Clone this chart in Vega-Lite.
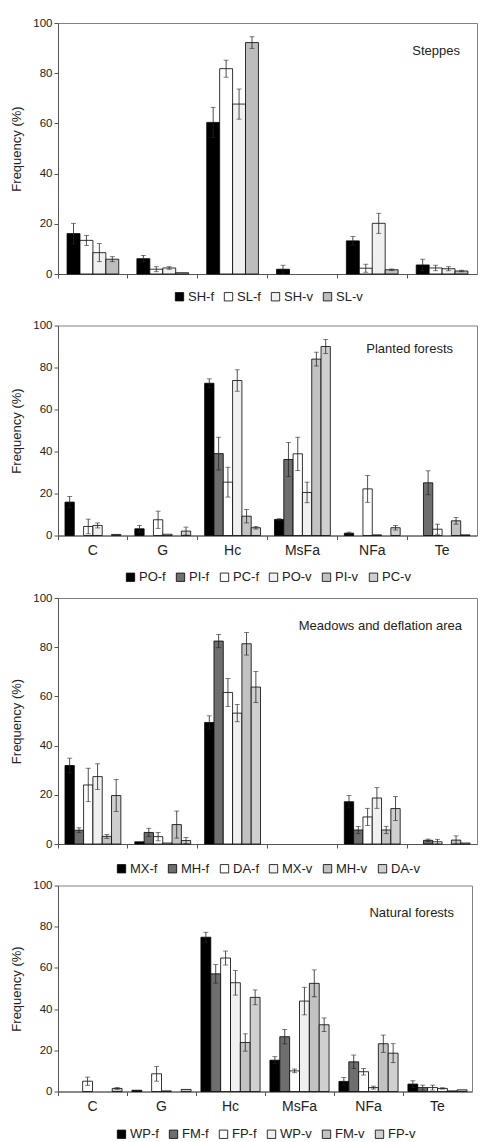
{
  "$schema": "https://vega.github.io/schema/vega-lite/v6.json",
  "background": "white",
  "padding": {"left": 10, "top": 16, "right": 0, "bottom": 0},
  "datasets": {
    "steppes": [
      {"c": "C", "s": "SH-f", "v": 16.1, "lo": 12.0, "hi": 20.2},
      {"c": "C", "s": "SL-f", "v": 13.4, "lo": 11.4, "hi": 15.4},
      {"c": "C", "s": "SH-v", "v": 8.5, "lo": 4.9, "hi": 12.1},
      {"c": "C", "s": "SL-v", "v": 5.9, "lo": 4.9, "hi": 6.9},
      {"c": "G", "s": "SH-f", "v": 6.1, "lo": 4.8, "hi": 7.4},
      {"c": "G", "s": "SL-f", "v": 1.9, "lo": 0.9, "hi": 2.9},
      {"c": "G", "s": "SH-v", "v": 2.4, "lo": 1.9, "hi": 2.9},
      {"c": "G", "s": "SL-v", "v": 0.5, "lo": null, "hi": null},
      {"c": "Hc", "s": "SH-f", "v": 60.4, "lo": 54.4, "hi": 66.4},
      {"c": "Hc", "s": "SL-f", "v": 81.8, "lo": 78.4, "hi": 85.2},
      {"c": "Hc", "s": "SH-v", "v": 67.7, "lo": 61.7, "hi": 73.7},
      {"c": "Hc", "s": "SL-v", "v": 92.2, "lo": 89.9, "hi": 94.5},
      {"c": "MsFa", "s": "SH-f", "v": 1.9, "lo": 0.3, "hi": 3.5},
      {"c": "NFa", "s": "SH-f", "v": 13.2, "lo": 11.5, "hi": 14.9},
      {"c": "NFa", "s": "SL-f", "v": 2.3, "lo": 0.7, "hi": 3.9},
      {"c": "NFa", "s": "SH-v", "v": 20.2, "lo": 16.2, "hi": 24.2},
      {"c": "NFa", "s": "SL-v", "v": 1.7, "lo": 1.4, "hi": 2.0},
      {"c": "Te", "s": "SH-f", "v": 3.6, "lo": 1.3, "hi": 5.9},
      {"c": "Te", "s": "SL-f", "v": 2.4, "lo": 1.3, "hi": 3.5},
      {"c": "Te", "s": "SH-v", "v": 2.1, "lo": 1.3, "hi": 2.9},
      {"c": "Te", "s": "SL-v", "v": 1.2, "lo": 0.9, "hi": 1.5}
    ],
    "planted": [
      {"c": "C", "s": "PO-f", "v": 15.9, "lo": 13.2, "hi": 18.6},
      {"c": "C", "s": "PC-f", "v": 4.3, "lo": 0.8, "hi": 7.8},
      {"c": "C", "s": "PO-v", "v": 4.8, "lo": 3.6, "hi": 6.0},
      {"c": "C", "s": "PC-v", "v": 0.5, "lo": null, "hi": null},
      {"c": "G", "s": "PO-f", "v": 3.2, "lo": 1.6, "hi": 4.8},
      {"c": "G", "s": "PC-f", "v": 7.5, "lo": 3.4, "hi": 11.6},
      {"c": "G", "s": "PO-v", "v": 0.6, "lo": null, "hi": null},
      {"c": "G", "s": "PC-v", "v": 2.1, "lo": 0.2, "hi": 4.0},
      {"c": "Hc", "s": "PO-f", "v": 72.5, "lo": 70.4, "hi": 74.6},
      {"c": "Hc", "s": "PI-f", "v": 39.0, "lo": 31.2, "hi": 46.8},
      {"c": "Hc", "s": "PC-f", "v": 25.4, "lo": 18.3, "hi": 32.5},
      {"c": "Hc", "s": "PO-v", "v": 73.8, "lo": 68.7, "hi": 78.9},
      {"c": "Hc", "s": "PI-v", "v": 9.2, "lo": 6.0, "hi": 12.4},
      {"c": "Hc", "s": "PC-v", "v": 3.7, "lo": 3.1, "hi": 4.3},
      {"c": "MsFa", "s": "PO-f", "v": 7.6, "lo": 7.2, "hi": 8.0},
      {"c": "MsFa", "s": "PI-f", "v": 36.2, "lo": 28.1, "hi": 44.3},
      {"c": "MsFa", "s": "PC-f", "v": 38.9, "lo": 31.0, "hi": 46.8},
      {"c": "MsFa", "s": "PO-v", "v": 20.5, "lo": 15.6, "hi": 25.4},
      {"c": "MsFa", "s": "PI-v", "v": 84.0, "lo": 80.7, "hi": 87.3},
      {"c": "MsFa", "s": "PC-v", "v": 90.0, "lo": 86.7, "hi": 93.3},
      {"c": "NFa", "s": "PO-f", "v": 1.1, "lo": 0.6, "hi": 1.6},
      {"c": "NFa", "s": "PC-f", "v": 22.2, "lo": 15.8, "hi": 28.6},
      {"c": "NFa", "s": "PO-v", "v": 0.3, "lo": null, "hi": null},
      {"c": "NFa", "s": "PC-v", "v": 3.7, "lo": 2.6, "hi": 4.8},
      {"c": "Te", "s": "PI-f", "v": 25.1, "lo": 19.4, "hi": 30.8},
      {"c": "Te", "s": "PC-f", "v": 3.0, "lo": 0.6, "hi": 5.4},
      {"c": "Te", "s": "PI-v", "v": 7.0, "lo": 5.4, "hi": 8.6},
      {"c": "Te", "s": "PC-v", "v": 0.3, "lo": null, "hi": null}
    ],
    "meadows": [
      {"c": "C", "s": "MX-f", "v": 31.9, "lo": 28.9, "hi": 34.9},
      {"c": "C", "s": "MH-f", "v": 5.6, "lo": 4.6, "hi": 6.6},
      {"c": "C", "s": "DA-f", "v": 24.0, "lo": 17.2, "hi": 30.8},
      {"c": "C", "s": "MX-v", "v": 27.4, "lo": 22.2, "hi": 32.6},
      {"c": "C", "s": "MH-v", "v": 3.1, "lo": 2.3, "hi": 3.9},
      {"c": "C", "s": "DA-v", "v": 19.7, "lo": 13.2, "hi": 26.2},
      {"c": "G", "s": "MX-f", "v": 0.9, "lo": null, "hi": null},
      {"c": "G", "s": "MH-f", "v": 4.7, "lo": 3.0, "hi": 6.4},
      {"c": "G", "s": "DA-f", "v": 3.0, "lo": 1.3, "hi": 4.7},
      {"c": "G", "s": "MX-v", "v": 0.4, "lo": null, "hi": null},
      {"c": "G", "s": "MH-v", "v": 7.9, "lo": 2.4, "hi": 13.4},
      {"c": "G", "s": "DA-v", "v": 1.4, "lo": 0.2, "hi": 2.6},
      {"c": "Hc", "s": "MX-f", "v": 49.4, "lo": 46.7, "hi": 52.1},
      {"c": "Hc", "s": "MH-f", "v": 82.5, "lo": 79.8, "hi": 85.2},
      {"c": "Hc", "s": "DA-f", "v": 61.6, "lo": 55.9, "hi": 67.3},
      {"c": "Hc", "s": "MX-v", "v": 53.2, "lo": 49.7, "hi": 56.7},
      {"c": "Hc", "s": "MH-v", "v": 81.4, "lo": 76.8, "hi": 86.0},
      {"c": "Hc", "s": "DA-v", "v": 63.8, "lo": 57.5, "hi": 70.1},
      {"c": "NFa", "s": "MX-f", "v": 17.2, "lo": 14.7, "hi": 19.7},
      {"c": "NFa", "s": "MH-f", "v": 5.7, "lo": 4.3, "hi": 7.1},
      {"c": "NFa", "s": "DA-f", "v": 11.0, "lo": 7.5, "hi": 14.5},
      {"c": "NFa", "s": "MX-v", "v": 18.7, "lo": 14.5, "hi": 22.9},
      {"c": "NFa", "s": "MH-v", "v": 5.7, "lo": 4.2, "hi": 7.2},
      {"c": "NFa", "s": "DA-v", "v": 14.4, "lo": 9.5, "hi": 19.3},
      {"c": "Te", "s": "MH-f", "v": 1.5, "lo": 1.0, "hi": 2.0},
      {"c": "Te", "s": "DA-f", "v": 0.9, "lo": 0.0, "hi": 1.9},
      {"c": "Te", "s": "MH-v", "v": 1.6, "lo": 0.0, "hi": 3.3},
      {"c": "Te", "s": "DA-v", "v": 0.4, "lo": null, "hi": null}
    ],
    "natural": [
      {"c": "C", "s": "FP-f", "v": 5.0, "lo": 3.0, "hi": 7.0},
      {"c": "C", "s": "FP-v", "v": 1.5, "lo": 1.1, "hi": 1.9},
      {"c": "G", "s": "WP-f", "v": 0.6, "lo": null, "hi": null},
      {"c": "G", "s": "FP-f", "v": 8.6, "lo": 5.0, "hi": 12.2},
      {"c": "G", "s": "WP-v", "v": 0.3, "lo": null, "hi": null},
      {"c": "G", "s": "FP-v", "v": 1.0, "lo": null, "hi": null},
      {"c": "Hc", "s": "WP-f", "v": 74.9, "lo": 72.5, "hi": 77.3},
      {"c": "Hc", "s": "FM-f", "v": 57.1, "lo": 52.6, "hi": 61.6},
      {"c": "Hc", "s": "FP-f", "v": 64.8, "lo": 61.4, "hi": 68.2},
      {"c": "Hc", "s": "WP-v", "v": 52.8, "lo": 46.8, "hi": 58.8},
      {"c": "Hc", "s": "FM-v", "v": 23.8, "lo": 19.6, "hi": 28.0},
      {"c": "Hc", "s": "FP-v", "v": 45.7, "lo": 42.1, "hi": 49.3},
      {"c": "MsFa", "s": "WP-f", "v": 15.2, "lo": 13.5, "hi": 16.9},
      {"c": "MsFa", "s": "FM-f", "v": 26.6, "lo": 23.1, "hi": 30.1},
      {"c": "MsFa", "s": "FP-f", "v": 10.0, "lo": 9.1, "hi": 10.9},
      {"c": "MsFa", "s": "WP-v", "v": 43.9, "lo": 37.2, "hi": 50.6},
      {"c": "MsFa", "s": "FM-v", "v": 52.5, "lo": 46.0, "hi": 59.0},
      {"c": "MsFa", "s": "FP-v", "v": 32.4, "lo": 29.1, "hi": 35.7},
      {"c": "NFa", "s": "WP-f", "v": 4.9, "lo": 3.0, "hi": 6.8},
      {"c": "NFa", "s": "FM-f", "v": 14.4, "lo": 11.1, "hi": 17.7},
      {"c": "NFa", "s": "FP-f", "v": 9.6, "lo": 8.0, "hi": 11.2},
      {"c": "NFa", "s": "WP-v", "v": 1.9, "lo": 1.2, "hi": 2.6},
      {"c": "NFa", "s": "FM-v", "v": 23.2, "lo": 19.0, "hi": 27.4},
      {"c": "NFa", "s": "FP-v", "v": 18.6, "lo": 14.0, "hi": 23.2},
      {"c": "Te", "s": "WP-f", "v": 3.6, "lo": 2.0, "hi": 5.2},
      {"c": "Te", "s": "FM-f", "v": 1.9, "lo": 0.7, "hi": 3.1},
      {"c": "Te", "s": "FP-f", "v": 1.9, "lo": 0.7, "hi": 3.1},
      {"c": "Te", "s": "WP-v", "v": 1.5, "lo": 1.2, "hi": 1.8},
      {"c": "Te", "s": "FM-v", "v": 0.3, "lo": null, "hi": null},
      {"c": "Te", "s": "FP-v", "v": 0.8, "lo": null, "hi": null}
    ]
  },
  "vconcat": [
    {
      "width": 419, "height": 251,
      "data": {"name": "steppes"},
      "title": {"text": "Steppes", "anchor": "end", "frame": "group", "offset": -47, "baseline": "middle", "dx": -17},
      "encoding": {
        "x": {"field": "c", "type": "nominal", "title": null, "scale": {"domain": ["C", "G", "Hc", "MsFa", "NFa", "Te"], "paddingInner": 0, "paddingOuter": 0}, "axis": {"labels": false}},
        "xOffset": {"field": "s", "type": "nominal", "scale": {"domain": ["SH-f", "SL-f", "SH-v", "SL-v"], "paddingInner": 0, "paddingOuter": 0.7}}
      },
      "layer": [
        {
          "mark": {"type": "bar", "stroke": "#000", "strokeWidth": 0.8},
          "encoding": {
            "y": {"field": "v", "type": "quantitative", "title": "Frequency (%)", "scale": {"domain": [0, 100]}},
            "color": {"field": "s", "type": "nominal", "scale": {"domain": ["SH-f", "SL-f", "SH-v", "SL-v"], "range": ["#000000", "#ffffff", "#f0f0f0", "#bdbdbd"]}, "legend": {"offset": -1.5, "padding": 12}}
          }
        },
        {
          "transform": [{"filter": "datum.hi != null"}],
          "mark": {"type": "rule", "color": "#222", "strokeWidth": 0.8},
          "encoding": {"y": {"field": "lo", "type": "quantitative", "title": "Frequency (%)"}, "y2": {"field": "hi"}}
        },
        {
          "transform": [{"filter": "datum.hi != null"}],
          "mark": {"type": "tick", "color": "#222", "size": 5, "thickness": 0.8},
          "encoding": {"y": {"field": "hi", "type": "quantitative", "title": "Frequency (%)"}}
        },
        {
          "transform": [{"filter": "datum.hi != null"}],
          "mark": {"type": "tick", "color": "#222", "size": 5, "thickness": 0.8},
          "encoding": {"y": {"field": "lo", "type": "quantitative", "title": "Frequency (%)"}}
        }
      ]
    },
    {
      "width": 419, "height": 210,
      "data": {"name": "planted"},
      "title": {"text": "Planted forests", "anchor": "end", "frame": "group", "offset": -42, "baseline": "middle", "dx": -24},
      "encoding": {
        "x": {"field": "c", "type": "nominal", "title": null, "scale": {"domain": ["C", "G", "Hc", "MsFa", "NFa", "Te"], "paddingInner": 0, "paddingOuter": 0}},
        "xOffset": {"field": "s", "type": "nominal", "scale": {"domain": ["PO-f", "PI-f", "PC-f", "PO-v", "PI-v", "PC-v"], "paddingInner": 0, "paddingOuter": 0.75}}
      },
      "layer": [
        {
          "mark": {"type": "bar", "stroke": "#000", "strokeWidth": 0.8},
          "encoding": {
            "y": {"field": "v", "type": "quantitative", "title": "Frequency (%)", "scale": {"domain": [0, 100]}},
            "color": {"field": "s", "type": "nominal", "scale": {"domain": ["PO-f", "PI-f", "PC-f", "PO-v", "PI-v", "PC-v"], "range": ["#000000", "#6e6e6e", "#ffffff", "#f0f0f0", "#c2c2c2", "#cfcfcf"]}, "legend": {"offset": 8.5, "padding": 4}}
          }
        },
        {
          "transform": [{"filter": "datum.hi != null"}],
          "mark": {"type": "rule", "color": "#222", "strokeWidth": 0.8},
          "encoding": {"y": {"field": "lo", "type": "quantitative", "title": "Frequency (%)"}, "y2": {"field": "hi"}}
        },
        {
          "transform": [{"filter": "datum.hi != null"}],
          "mark": {"type": "tick", "color": "#222", "size": 5, "thickness": 0.8},
          "encoding": {"y": {"field": "hi", "type": "quantitative", "title": "Frequency (%)"}}
        },
        {
          "transform": [{"filter": "datum.hi != null"}],
          "mark": {"type": "tick", "color": "#222", "size": 5, "thickness": 0.8},
          "encoding": {"y": {"field": "lo", "type": "quantitative", "title": "Frequency (%)"}}
        }
      ]
    },
    {
      "width": 419, "height": 246,
      "data": {"name": "meadows"},
      "title": {"text": "Meadows and deflation area", "anchor": "end", "frame": "group", "offset": -47, "baseline": "middle", "dx": -15},
      "encoding": {
        "x": {"field": "c", "type": "nominal", "title": null, "scale": {"domain": ["C", "G", "Hc", "MsFa", "NFa", "Te"], "paddingInner": 0, "paddingOuter": 0}, "axis": {"labels": false}},
        "xOffset": {"field": "s", "type": "nominal", "scale": {"domain": ["MX-f", "MH-f", "DA-f", "MX-v", "MH-v", "DA-v"], "paddingInner": 0, "paddingOuter": 0.75}}
      },
      "layer": [
        {
          "mark": {"type": "bar", "stroke": "#000", "strokeWidth": 0.8},
          "encoding": {
            "y": {"field": "v", "type": "quantitative", "title": "Frequency (%)", "scale": {"domain": [0, 100]}},
            "color": {"field": "s", "type": "nominal", "scale": {"domain": ["MX-f", "MH-f", "DA-f", "MX-v", "MH-v", "DA-v"], "range": ["#000000", "#6e6e6e", "#ffffff", "#f0f0f0", "#c2c2c2", "#cfcfcf"]}, "legend": {"offset": 12.5, "padding": 0}}
          }
        },
        {
          "transform": [{"filter": "datum.hi != null"}],
          "mark": {"type": "rule", "color": "#222", "strokeWidth": 0.8},
          "encoding": {"y": {"field": "lo", "type": "quantitative", "title": "Frequency (%)"}, "y2": {"field": "hi"}}
        },
        {
          "transform": [{"filter": "datum.hi != null"}],
          "mark": {"type": "tick", "color": "#222", "size": 5, "thickness": 0.8},
          "encoding": {"y": {"field": "hi", "type": "quantitative", "title": "Frequency (%)"}}
        },
        {
          "transform": [{"filter": "datum.hi != null"}],
          "mark": {"type": "tick", "color": "#222", "size": 5, "thickness": 0.8},
          "encoding": {"y": {"field": "lo", "type": "quantitative", "title": "Frequency (%)"}}
        }
      ]
    },
    {
      "width": 414, "height": 206,
      "data": {"name": "natural"},
      "title": {"text": "Natural forests", "anchor": "end", "frame": "group", "offset": -46, "baseline": "middle", "dx": -18},
      "encoding": {
        "x": {"field": "c", "type": "nominal", "title": null, "scale": {"domain": ["C", "G", "Hc", "MsFa", "NFa", "Te"], "paddingInner": 0, "paddingOuter": 0}},
        "xOffset": {"field": "s", "type": "nominal", "scale": {"domain": ["WP-f", "FM-f", "FP-f", "WP-v", "FM-v", "FP-v"], "paddingInner": 0, "paddingOuter": 0.5}}
      },
      "layer": [
        {
          "mark": {"type": "bar", "stroke": "#000", "strokeWidth": 0.8},
          "encoding": {
            "y": {"field": "v", "type": "quantitative", "title": "Frequency (%)", "scale": {"domain": [0, 100]}},
            "color": {"field": "s", "type": "nominal", "scale": {"domain": ["WP-f", "FM-f", "FP-f", "WP-v", "FM-v", "FP-v"], "range": ["#000000", "#6e6e6e", "#ffffff", "#f0f0f0", "#c2c2c2", "#cfcfcf"]}, "legend": {"offset": 13.5, "padding": 0}}
          }
        },
        {
          "transform": [{"filter": "datum.hi != null"}],
          "mark": {"type": "rule", "color": "#222", "strokeWidth": 0.8},
          "encoding": {"y": {"field": "lo", "type": "quantitative", "title": "Frequency (%)"}, "y2": {"field": "hi"}}
        },
        {
          "transform": [{"filter": "datum.hi != null"}],
          "mark": {"type": "tick", "color": "#222", "size": 5, "thickness": 0.8},
          "encoding": {"y": {"field": "hi", "type": "quantitative", "title": "Frequency (%)"}}
        },
        {
          "transform": [{"filter": "datum.hi != null"}],
          "mark": {"type": "tick", "color": "#222", "size": 5, "thickness": 0.8},
          "encoding": {"y": {"field": "lo", "type": "quantitative", "title": "Frequency (%)"}}
        }
      ]
    }
  ],
  "spacing": 1.5,
  "resolve": {"scale": {"x": "independent", "y": "independent", "color": "independent", "xOffset": "independent"}, "legend": {"color": "independent"}},
  "config": {
    "font": "Liberation Sans",
    "view": {"stroke": "#808080", "strokeWidth": 1},
    "title": {"fontSize": 13, "fontWeight": "normal", "color": "#222"},
    "axis": {"domainColor": "#555", "tickColor": "#555", "labelColor": "#222", "titleColor": "#222", "grid": false, "titleFontWeight": "normal"},
    "axisY": {"values": [0, 20, 40, 60, 80, 100], "labelFontSize": 11.5, "titleFontSize": 13, "tickSize": 4, "labelPadding": 2, "titlePadding": 9},
    "axisX": {"labelFontSize": 14, "tickSize": 4, "labelAngle": 0, "bandPosition": 0, "labelPadding": 4},
    "legend": {"orient": "bottom", "direction": "horizontal", "title": null, "symbolType": "square", "symbolSize": 70, "symbolStrokeColor": "#000", "symbolStrokeWidth": 0.8, "labelFontSize": 13, "labelColor": "#222", "labelOffset": 2, "columnPadding": 8, "layout": {"bottom": {"anchor": "middle"}}}
  }
}
